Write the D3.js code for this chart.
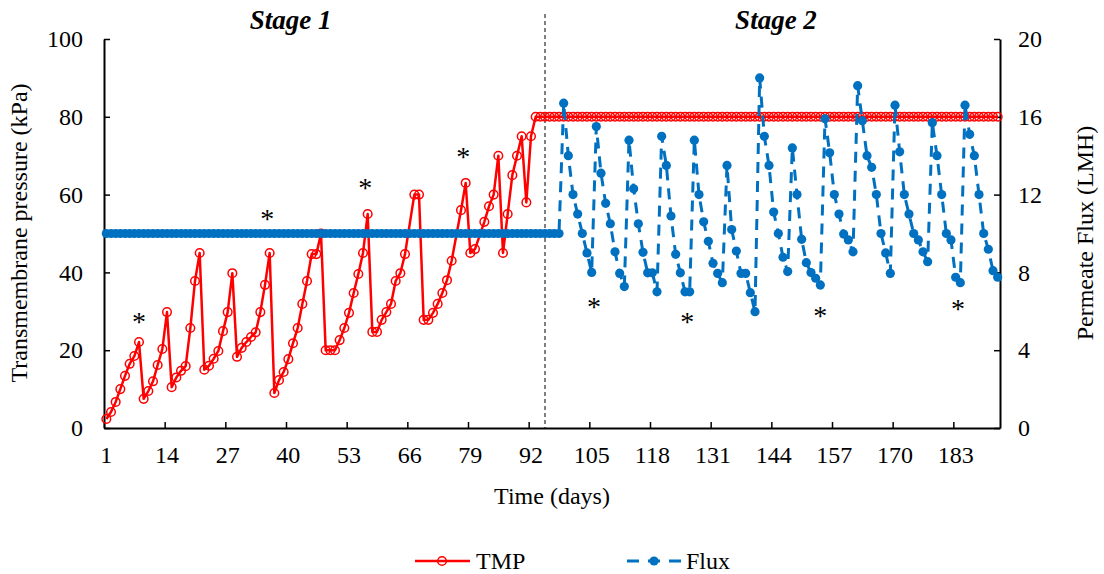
<!DOCTYPE html>
<html>
<head>
<meta charset="utf-8">
<script src="https://cdn.jsdelivr.net/npm/d3@7"></script>
<style>
  body { margin: 0; background: #fff; }
  svg text { font-family: "Liberation Serif", "Times New Roman", serif; fill: #000; }
</style>
</head>
<body>
<svg id="chart" width="1104" height="574"></svg>
<script>
// Transmembrane pressure (kPa) by operating day
const tmpDays = [
  1,2,3,4,5,6,7,8,9,10,11,12,13,14,15,16,17,18,19,20,21,22,23,24,25,26,27,28,29,30,
  31,32,33,34,35,36,37,38,39,40,41,42,43,44,45,46,47,48,49,50,51,52,53,54,55,56,57,58,59,60,
  61,62,63,64,65,67,68,69,70,71,72,73,74,75,77,78,79,80,82,83,84,85,86,87,88,89,90,91,92,
  93,94,95,96,97,98,99,100,101,102,103,104,105,106,107,108,109,110,111,112,
  113,114,115,116,117,118,119,120,121,122,123,124,125,126,127,128,129,130,131,132,
  133,134,135,136,137,138,139,140,141,142,143,144,145,146,147,148,149,150,151,152,
  153,154,155,156,157,158,159,160,161,162,163,164,165,166,167,168,169,170,171,172,
  173,174,175,176,177,178,179,180,181,182,183,184,185,186,187,188,189,190,191,192
];
const tmpValues = [
  2.3,4.1,6.7,10,13.4,16.5,18.5,22.1,7.5,9.5,12,16.2,20.3,29.8,10.5,13,14.7,15.9,25.7,37.8,
  45,15,16,17.8,19.8,24.9,29.8,39.8,18.3,20.6,22.1,23.4,24.6,29.8,36.8,45,9,12.3,14.4,17.7,
  21.8,25.7,31.9,37.8,44.7,44.7,50,20,20,20,22.6,25.7,29.6,34.7,39.6,45,55,24.7,24.7,27.8,
  29.8,31.9,37.8,39.8,44.7,60,60,27.8,27.8,29.6,31.9,34.7,38,43,56,63,45,46,53,57,60,70,45,
  55,65,70,75,58,75,
  80,80,80,80,80,80,80,80,80,80,80,80,80,80,80,80,80,80,80,80,
  80,80,80,80,80,80,80,80,80,80,80,80,80,80,80,80,80,80,80,80,
  80,80,80,80,80,80,80,80,80,80,80,80,80,80,80,80,80,80,80,80,
  80,80,80,80,80,80,80,80,80,80,80,80,80,80,80,80,80,80,80,80,
  80,80,80,80,80,80,80,80,80,80,80,80,80,80,80,80,80,80,80,80
];

// Permeate flux (LMH) by operating day
const fluxDays = d3.range(1, 193);
const fluxValues = [
  10,10,10,10,10,10,10,10,10,10,10,10,10,10,10,10,10,10,10,10,
  10,10,10,10,10,10,10,10,10,10,10,10,10,10,10,10,10,10,10,10,
  10,10,10,10,10,10,10,10,10,10,10,10,10,10,10,10,10,10,10,10,
  10,10,10,10,10,10,10,10,10,10,10,10,10,10,10,10,10,10,10,10,
  10,10,10,10,10,10,10,10,10,10,10,10,10,10,10,10,10,10,
  16.7,14.0,12.0,11.0,10.0,9.0,8.0,
  15.5,13.1,11.55,10.5,9.06,7.95,7.27,
  14.8,12.3,10.5,9.03,7.98,7.98,7.0,
  15.0,13.5,10.9,8.93,7.98,7.0,7.0,
  14.8,12.0,10.6,9.6,8.47,7.95,7.47,
  13.5,10.2,9.1,7.95,7.95,6.96,5.98,
  18.0,15.0,13.5,11.1,10.0,8.78,8.04,
  14.4,12.0,9.7,8.5,7.99,7.7,7.35,
  15.9,14.15,12.0,11.0,9.97,9.67,9.06,
  17.6,15.8,14.0,13.4,12.0,10.0,9.0,7.95,
  16.6,14.2,12.0,11.0,10.0,9.67,9.06,8.55,
  15.7,14.0,12.0,10.0,9.67,7.75,7.47,
  16.6,15.1,14.0,12.0,10.0,9.19,8.09,7.75
];

const dayTicks = [1, 14, 27, 40, 53, 66, 79, 92, 105, 118, 131, 144, 157, 170, 183];
const tmpTicks = [0, 20, 40, 60, 80, 100];
const fluxTicks = [0, 4, 8, 12, 16, 20];

const stageNames = ["Stage 1", "Stage 2"];
const stageCentres = [40.5, 144.5];
const stageBoundary = 95;

// significance markers: stage 1 on the pressure scale, stage 2 on the flux scale
const starTmpDays = [8, 35.5, 56.5, 77.5];
const starTmpValues = [28.5, 55, 63, 71];
const starFluxDays = [105.5, 125.5, 154, 183.5];
const starFluxValues = [6.5, 5.7, 6.0, 6.4];

const RED = "#FF0000", BLUE = "#0070C0";
const plotLeft = 104, plotRight = 1000, plotTop = 39, plotBottom = 428;

const svg = d3.select("#chart");
const x = d3.scaleLinear().domain([0.5, 192.5]).range([plotLeft, plotRight]);
const yL = d3.scaleLinear().domain([0, 100]).range([plotBottom, plotTop]);
const yR = d3.scaleLinear().domain([0, 20]).range([plotBottom, plotTop]);

const FS = 24;

// axes: ticks point inward
const xAxis = d3.axisBottom(x)
  .tickValues(dayTicks.map(d => d - 0.5))
  .tickSizeInner(-6).tickSizeOuter(0).tickFormat("");
svg.append("g").attr("transform", `translate(0,${plotBottom})`).call(xAxis)
  .call(g => g.select(".domain").attr("stroke", "#000").attr("stroke-width", 2))
  .call(g => g.selectAll(".tick line").attr("stroke", "#000").attr("stroke-width", 1.5));

svg.append("g").selectAll("text").data(dayTicks).join("text")
  .attr("x", d => x(d)).attr("y", plotBottom + 35)
  .attr("text-anchor", "middle").attr("font-size", FS).text(d => d);

const yAxisL = d3.axisLeft(yL).tickValues(tmpTicks).tickSizeInner(-6).tickSizeOuter(0)
  .tickPadding(21);
svg.append("g").attr("transform", `translate(${plotLeft},0)`).call(yAxisL)
  .call(g => g.select(".domain").attr("stroke", "#000").attr("stroke-width", 2))
  .call(g => g.selectAll(".tick line").attr("stroke", "#000").attr("stroke-width", 1.5))
  .call(g => g.selectAll(".tick text").attr("font-size", FS)
    .attr("font-family", '"Liberation Serif", serif'));

const yAxisR = d3.axisRight(yR).tickValues(fluxTicks).tickSizeInner(-6).tickSizeOuter(0)
  .tickPadding(18);
svg.append("g").attr("transform", `translate(${plotRight},0)`).call(yAxisR)
  .call(g => g.select(".domain").attr("stroke", "#000").attr("stroke-width", 2))
  .call(g => g.selectAll(".tick line").attr("stroke", "#000").attr("stroke-width", 1.5))
  .call(g => g.selectAll(".tick text").attr("font-size", FS)
    .attr("font-family", '"Liberation Serif", serif'));

// stage divider
svg.append("line")
  .attr("x1", x(stageBoundary)).attr("x2", x(stageBoundary))
  .attr("y1", 14).attr("y2", plotBottom)
  .attr("stroke", "#000").attr("stroke-width", 1).attr("stroke-dasharray", "4,3");

svg.append("g").selectAll("text").data(stageNames).join("text")
  .attr("x", (d, i) => x(stageCentres[i])).attr("y", 29)
  .attr("text-anchor", "middle").attr("font-size", 27)
  .attr("font-weight", "bold").attr("font-style", "italic").text(d => d);

// TMP series
const tmp = tmpDays.map((d, i) => [d, tmpValues[i]]);
svg.append("path").datum(tmp)
  .attr("fill", "none").attr("stroke", RED).attr("stroke-width", 2.5)
  .attr("stroke-linejoin", "round")
  .attr("d", d3.line().x(d => x(d[0])).y(d => yL(d[1])));
svg.append("g").selectAll("circle").data(tmp).join("circle")
  .attr("cx", d => x(d[0])).attr("cy", d => yL(d[1])).attr("r", 4.3)
  .attr("fill", "none").attr("stroke", RED).attr("stroke-width", 1.5);

// Flux series
const flux = fluxDays.map((d, i) => [d, fluxValues[i]]);
svg.append("path").datum(flux)
  .attr("fill", "none").attr("stroke", BLUE).attr("stroke-width", 3)
  .attr("stroke-dasharray", "11,8")
  .attr("d", d3.line().x(d => x(d[0])).y(d => yR(d[1])));
svg.append("g").selectAll("circle").data(flux).join("circle")
  .attr("cx", d => x(d[0])).attr("cy", d => yR(d[1])).attr("r", 4.6)
  .attr("fill", BLUE);

// asterisks
const STAR = 28;
svg.append("g").selectAll("text").data(starTmpDays).join("text")
  .attr("x", d => x(d)).attr("y", (d, i) => yL(starTmpValues[i]) + STAR * 0.5)
  .attr("text-anchor", "middle").attr("font-size", STAR).text("*");
svg.append("g").selectAll("text").data(starFluxDays).join("text")
  .attr("x", d => x(d)).attr("y", (d, i) => yR(starFluxValues[i]) + STAR * 0.5)
  .attr("text-anchor", "middle").attr("font-size", STAR).text("*");

// axis titles
svg.append("text").attr("x", 552).attr("y", 504)
  .attr("text-anchor", "middle").attr("font-size", FS).text("Time (days)");
svg.append("text").attr("transform", "translate(27,233) rotate(-90)")
  .attr("text-anchor", "middle").attr("font-size", FS).text("Transmembrane pressure (kPa)");
svg.append("text").attr("transform", "translate(1093,233) rotate(-90)")
  .attr("text-anchor", "middle").attr("font-size", FS).text("Permeate Flux (LMH)");

// legend
const lg = svg.append("g");
lg.append("line").attr("x1", 415).attr("x2", 470).attr("y1", 561).attr("y2", 561)
  .attr("stroke", RED).attr("stroke-width", 2.5);
lg.append("circle").attr("cx", 442).attr("cy", 561).attr("r", 4.3)
  .attr("fill", "none").attr("stroke", RED).attr("stroke-width", 1.5);
lg.append("text").attr("x", 476).attr("y", 569).attr("font-size", FS).text("TMP");
lg.append("line").attr("x1", 627).attr("x2", 682).attr("y1", 561).attr("y2", 561)
  .attr("stroke", BLUE).attr("stroke-width", 3).attr("stroke-dasharray", "12,9");
lg.append("circle").attr("cx", 654).attr("cy", 561).attr("r", 4.6).attr("fill", BLUE);
lg.append("text").attr("x", 686).attr("y", 569).attr("font-size", FS).text("Flux");
</script>
</body>
</html>
